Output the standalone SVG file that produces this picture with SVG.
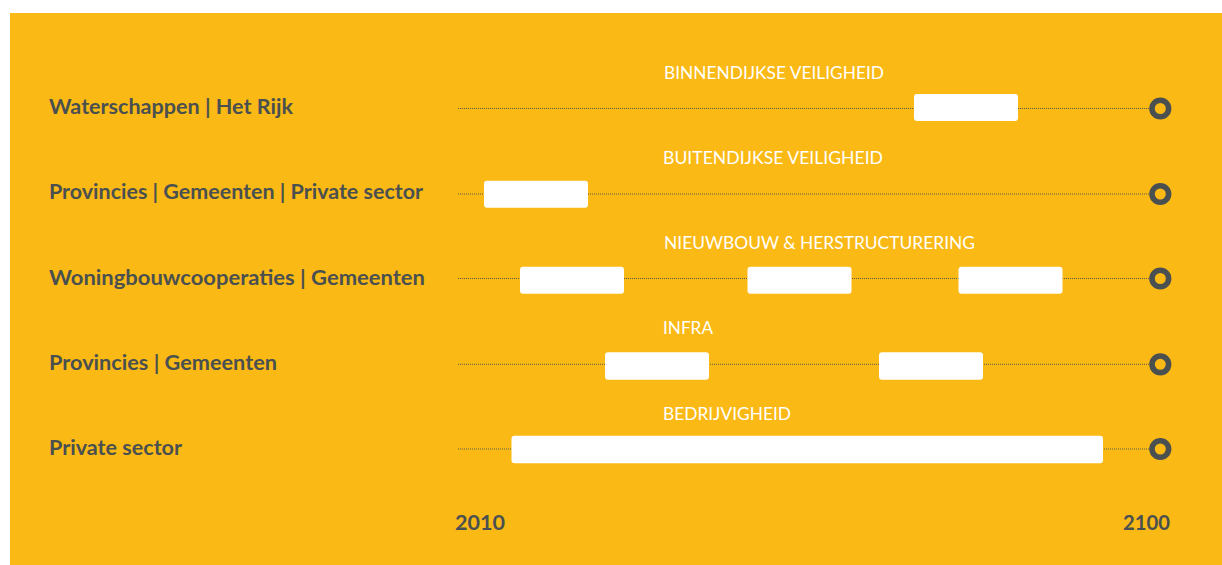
<svg xmlns="http://www.w3.org/2000/svg" width="1222" height="565" viewBox="0 0 1222 565">
<defs>
<style>
.bg{fill:#FBB915}
.row{font-family:Lato,"Liberation Sans",sans-serif;font-weight:700;font-size:20px;fill:#4A5050}
.cap{font-family:Lato,"Liberation Sans",sans-serif;font-weight:400;font-size:17px;fill:#FFFFFF}
.yr{font-family:Lato,"Liberation Sans",sans-serif;font-weight:700;font-size:21px;fill:#4A5050}
.dot{stroke:#5C5A48;stroke-width:1;stroke-dasharray:1 1;fill:none}
.bar{fill:#FFFFFF}
.end{fill:none;stroke:#4A5050;stroke-width:5.6}
</style>
</defs>
<rect x="0" y="0" width="1222" height="565" fill="#FFFFFF"/>
<rect class="bg" x="10" y="13" width="1212" height="552"/>

<g id="connectors">
<line class="dot" x1="458" y1="108.5" x2="1150" y2="108.5"/>
<line class="dot" x1="458" y1="194" x2="1150" y2="194"/>
<line class="dot" x1="458" y1="278.5" x2="1150" y2="278.5"/>
<line class="dot" x1="458" y1="364.3" x2="1150" y2="364.3"/>
<line class="dot" x1="458" y1="449" x2="1150" y2="449"/>
</g>

<g id="row1">
<text class="row" x="49" y="114" textLength="244" lengthAdjust="spacingAndGlyphs">Waterschappen | Het Rijk</text>
<text class="cap" x="664" y="79" textLength="220" lengthAdjust="spacingAndGlyphs">BINNENDIJKSE VEILIGHEID</text>
<rect class="bar" x="914" y="94" width="104" height="27" rx="3"/>
<circle class="end" cx="1160.3" cy="108.5" r="8.3"/>
</g>

<g id="row2">
<text class="row" x="49" y="199" textLength="374" lengthAdjust="spacingAndGlyphs">Provincies | Gemeenten | Private sector</text>
<text class="cap" x="663" y="164" textLength="220" lengthAdjust="spacingAndGlyphs">BUITENDIJKSE VEILIGHEID</text>
<rect class="bar" x="484" y="180.7" width="104" height="27" rx="3"/>
<circle class="end" cx="1160.3" cy="194" r="8.3"/>
</g>

<g id="row3">
<text class="row" x="49" y="285" textLength="376" lengthAdjust="spacingAndGlyphs">Woningbouwcooperaties | Gemeenten</text>
<text class="cap" x="664" y="249" textLength="311" lengthAdjust="spacingAndGlyphs">NIEUWBOUW &amp; HERSTRUCTURERING</text>
<rect class="bar" x="520" y="266.7" width="104" height="27" rx="3"/>
<rect class="bar" x="747.5" y="266.7" width="104" height="27" rx="3"/>
<rect class="bar" x="958.5" y="266.7" width="104" height="27" rx="3"/>
<circle class="end" cx="1160.3" cy="278.5" r="8.3"/>
</g>

<g id="row4">
<text class="row" x="49" y="369.5" textLength="228" lengthAdjust="spacingAndGlyphs">Provincies | Gemeenten</text>
<text class="cap" x="663" y="334" textLength="50" lengthAdjust="spacingAndGlyphs">INFRA</text>
<rect class="bar" x="605" y="352.3" width="104" height="27.5" rx="3"/>
<rect class="bar" x="879" y="352.3" width="104" height="27.5" rx="3"/>
<circle class="end" cx="1160.3" cy="364.3" r="8.3"/>
</g>

<g id="row5">
<text class="row" x="49" y="455" textLength="133" lengthAdjust="spacingAndGlyphs">Private sector</text>
<text class="cap" x="663" y="420" textLength="128" lengthAdjust="spacingAndGlyphs">BEDRIJVIGHEID</text>
<rect class="bar" x="511.5" y="435.7" width="591.5" height="27.5" rx="3"/>
<circle class="end" cx="1160.3" cy="449" r="8.3"/>
</g>

<g id="axis">
<text class="yr" x="455" y="530" textLength="50" lengthAdjust="spacingAndGlyphs">2010</text>
<text class="yr" x="1123" y="530" textLength="47" lengthAdjust="spacingAndGlyphs">2100</text>
</g>
</svg>
